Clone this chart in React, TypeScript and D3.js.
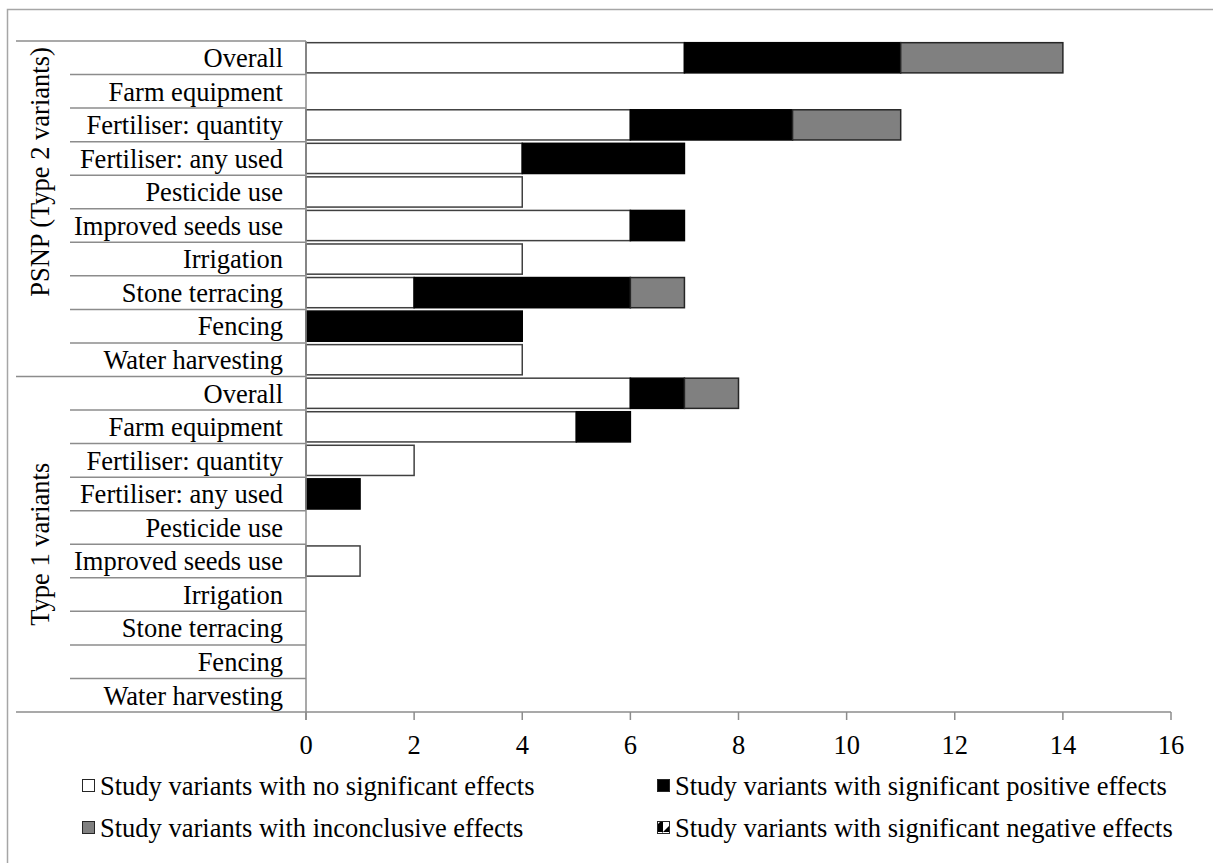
import React from 'react';
import * as d3 from 'd3';

const groups = ['PSNP (Type 2 variants)', 'Type 1 variants'];
const categories = [
  'Overall',
  'Farm equipment',
  'Fertiliser: quantity',
  'Fertiliser: any used',
  'Pesticide use',
  'Improved seeds use',
  'Irrigation',
  'Stone terracing',
  'Fencing',
  'Water harvesting',
];

const seriesNames = [
  'Study variants with no significant effects',
  'Study variants with significant positive effects',
  'Study variants with inconclusive effects',
  'Study variants with significant negative effects',
];

const psnpNoSig = [7, 0, 6, 4, 4, 6, 4, 2, 0, 4];
const psnpPositive = [4, 0, 3, 3, 0, 1, 0, 4, 4, 0];
const psnpInconclusive = [3, 0, 2, 0, 0, 0, 0, 1, 0, 0];
const psnpNegative = [0, 0, 0, 0, 0, 0, 0, 0, 0, 0];

const type1NoSig = [6, 5, 2, 0, 0, 1, 0, 0, 0, 0];
const type1Positive = [1, 1, 0, 1, 0, 0, 0, 0, 0, 0];
const type1Inconclusive = [1, 0, 0, 0, 0, 0, 0, 0, 0, 0];
const type1Negative = [0, 0, 0, 0, 0, 0, 0, 0, 0, 0];

const xTicks = [0, 2, 4, 6, 8, 10, 12, 14, 16];

const fills = ['#ffffff', '#000000', '#808080', 'url(#negPattern)'];
const strokes = ['#404040', '#000000', '#262626', '#000000'];

const FONT = "'Liberation Serif', 'DejaVu Serif', serif";
const FS = 26.5;

type Row = { key: string; group: number; label: string; v: number[] };

const rows: Row[] = [
  ...categories.map((c, i) => ({
    key: 'g0-' + i,
    group: 0,
    label: c,
    v: [psnpNoSig[i], psnpPositive[i], psnpInconclusive[i], psnpNegative[i]],
  })),
  ...categories.map((c, i) => ({
    key: 'g1-' + i,
    group: 1,
    label: c,
    v: [type1NoSig[i], type1Positive[i], type1Inconclusive[i], type1Negative[i]],
  })),
];

const App: React.FC = () => {
  const width = 1213;
  const height = 863;
  const plotLeft = 306;
  const plotRight = 1171;
  const plotTop = 41;
  const plotBottom = 712;

  const x = d3.scaleLinear().domain([0, 16]).range([plotLeft, plotRight]);
  const y = d3
    .scaleBand<string>()
    .domain(rows.map(r => r.key))
    .range([plotTop, plotBottom])
    .paddingInner(0.1)
    .paddingOuter(0.05);
  const step = y.step();
  const rowTop = (i: number) => plotTop + i * step;

  const stacked = d3
    .stack<Row, number>()
    .keys([0, 1, 2, 3])
    .value((d, k) => d.v[k])(rows);

  const axisColor = '#8c8c8c';
  const textStyle = { fontFamily: FONT };
  // the first group label sits a bit above its band centre in the original
  const groupCentres = [172, (rowTop(10) + rowTop(20)) / 2];

  return (
    <svg
      width={width}
      height={height}
      style={{ position: 'absolute', left: 0, top: 0, background: '#fff', fontFamily: FONT }}
    >
      <defs>
        <pattern id="negPattern" width="13" height="13" patternUnits="userSpaceOnUse">
          <rect width="13" height="13" fill="#fff" />
          <path d="M0,13 L13,0 L13,13 Z" fill="#000" />
        </pattern>
      </defs>

      {/* chart area border */}
      <rect x={7.5} y={9.5} width={1220} height={870} fill="#fff" stroke="#a6a6a6" strokeWidth={1.5} />

      {/* bars */}
      {stacked.map((layer, k) => (
        <g key={k}>
          {layer.map((seg, i) => {
            const w = x(seg[1]) - x(seg[0]);
            if (w <= 0) return null;
            return (
              <rect
                key={i}
                x={x(seg[0])}
                y={y(rows[i].key)!}
                width={w}
                height={y.bandwidth()}
                fill={fills[k]}
                stroke={strokes[k]}
                strokeWidth={1.5}
              />
            );
          })}
        </g>
      ))}

      {/* category separators */}
      {d3.range(rows.length).map(i => {
        const isGroupEdge = i % categories.length === 0;
        return (
          <line
            key={i}
            x1={isGroupEdge ? 16 : 70}
            x2={plotLeft}
            y1={rowTop(i)}
            y2={rowTop(i)}
            stroke={axisColor}
            strokeWidth={1.5}
          />
        );
      })}

      {/* y axis line */}
      <line x1={plotLeft} x2={plotLeft} y1={plotTop} y2={plotBottom + 8} stroke={axisColor} strokeWidth={1.5} />

      {/* x axis */}
      <line x1={16} x2={plotRight} y1={plotBottom} y2={plotBottom} stroke={axisColor} strokeWidth={1.5} />
      {xTicks.map(t => (
        <g key={t}>
          <line x1={x(t)} x2={x(t)} y1={plotBottom} y2={plotBottom + 8} stroke={axisColor} strokeWidth={1.5} />
          <text x={x(t)} y={plotBottom + 42} textAnchor="middle" fontSize={FS} fill="#000" style={textStyle}>
            {t}
          </text>
        </g>
      ))}

      {/* category labels */}
      {rows.map((r, i) => (
        <text
          key={r.key}
          x={283}
          y={rowTop(i) + step / 2}
          dy="0.35em"
          textAnchor="end"
          fontSize={FS}
          fill="#000"
          style={textStyle}
        >
          {r.label}
        </text>
      ))}

      {/* group labels */}
      {groups.map((g, gi) => (
        <text
          key={g}
          transform={`translate(40,${groupCentres[gi]}) rotate(-90)`}
          dy="0.35em"
          textAnchor="middle"
          fontSize={FS}
          fill="#000"
          style={textStyle}
        >
          {g}
        </text>
      ))}

      {/* legend */}
      {seriesNames.map((s, i) => {
        const col = i === 0 || i === 2 ? 0 : 1;
        const row = i < 2 ? 0 : 1;
        const lx = col === 0 ? 82 : 657;
        const ly = 786 + row * 42;
        return (
          <g key={s}>
            <rect x={lx + 0.5} y={ly - 6.5} width={12} height={12} fill={fills[i]} stroke="#262626" strokeWidth={1} />
            <text x={lx + 18} y={ly} dy="0.35em" fontSize={FS} fill="#000" style={textStyle}>
              {s}
            </text>
          </g>
        );
      })}
    </svg>
  );
};

export default App;
